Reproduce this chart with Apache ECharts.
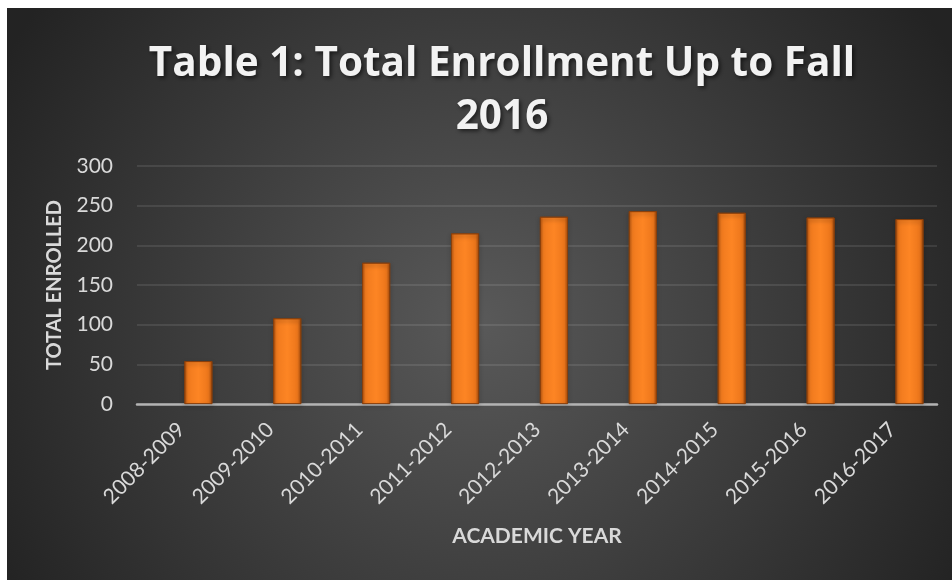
<!DOCTYPE html>
<html>
<head>
<meta charset="utf-8">
<script src="https://cdn.jsdelivr.net/npm/echarts@6/dist/echarts.min.js"></script>
<style>
  html, body { margin: 0; padding: 0; background: #ffffff; }
  #chart { position: absolute; left: 7px; top: 8px; width: 945px; height: 572px; }
</style>
</head>
<body>
<div id="chart"></div>
<script>
const categories = ['2008-2009','2009-2010','2010-2011','2011-2012','2012-2013','2013-2014','2014-2015','2015-2016','2016-2017'];
const enrolled = [54, 108, 178, 215, 236, 243, 241, 235, 233];
const yTicks = [0, 50, 100, 150, 200, 250, 300];
const titleText = 'Table 1: Total Enrollment Up to Fall\n2016';

const chart = echarts.init(document.getElementById('chart'));
const labelColor = '#d9d9d9';
const font = 'Lato, "Open Sans", sans-serif';

chart.setOption({
  backgroundColor: {
    type: 'radial', x: 0.5, y: 0.55, r: 0.95,
    colorStops: [{ offset: 0, color: '#595959' }, { offset: 1, color: '#232323' }]
  },
  title: {
    text: titleText,
    left: 490, top: 25,
    textAlign: 'center',
    textStyle: {
      color: '#f2f2f2', fontFamily: '"Open Sans", Lato, sans-serif', fontWeight: 'bold', fontSize: 40.5, lineHeight: 53,
      textShadowColor: 'rgba(0,0,0,0.6)', textShadowBlur: 4, textShadowOffsetX: 2, textShadowOffsetY: 2
    }
  },
  grid: { left: 130, right: 15, top: 158, bottom: 176 },
  xAxis: {
    type: 'category',
    data: categories,
    name: 'ACADEMIC YEAR',
    nameLocation: 'middle',
    nameGap: 122,
    nameTextStyle: { color: labelColor, fontFamily: font, fontWeight: 'bold', fontSize: 21 },
    axisLine: { lineStyle: { color: '#b3b3b3', width: 2.5 } },
    axisTick: { show: false },
    axisLabel: { color: labelColor, fontFamily: font, fontSize: 21, rotate: 45, margin: 22, interval: 0 }
  },
  yAxis: {
    type: 'value',
    min: yTicks[0], max: yTicks[yTicks.length - 1], interval: 50,
    name: 'TOTAL ENROLLED',
    nameLocation: 'middle',
    nameGap: 72,
    nameRotate: 90,
    nameTextStyle: { color: labelColor, fontFamily: font, fontWeight: 'bold', fontSize: 20 },
    axisLine: { show: false },
    axisTick: { show: false },
    axisLabel: { color: labelColor, fontFamily: font, fontSize: 21, margin: 24 },
    splitLine: { lineStyle: { color: 'rgba(255,255,255,0.13)', width: 1.5 } }
  },
  series: [
    {
      type: 'bar', name: 'placeholder',
      data: categories.map(() => '-'),
      barWidth: 28, barGap: '21%', silent: true
    },
    {
      type: 'bar', name: 'Total Enrolled',
      data: enrolled,
      barWidth: 28, barGap: '21%',
      itemStyle: {
        color: {
          type: 'linear', x: 0, y: 0, x2: 1, y2: 0,
          colorStops: [
            { offset: 0, color: '#b9560f' },
            { offset: 0.12, color: '#f07a1e' },
            { offset: 0.5, color: '#fd8524' },
            { offset: 0.88, color: '#ec761b' },
            { offset: 1, color: '#a84c0c' }
          ]
        },
        borderColor: '#8a3f0a', borderWidth: 0.8,
        shadowColor: 'rgba(0,0,0,0.45)', shadowBlur: 4, shadowOffsetY: 2
      }
    }
  ]
});
</script>
</body>
</html>
